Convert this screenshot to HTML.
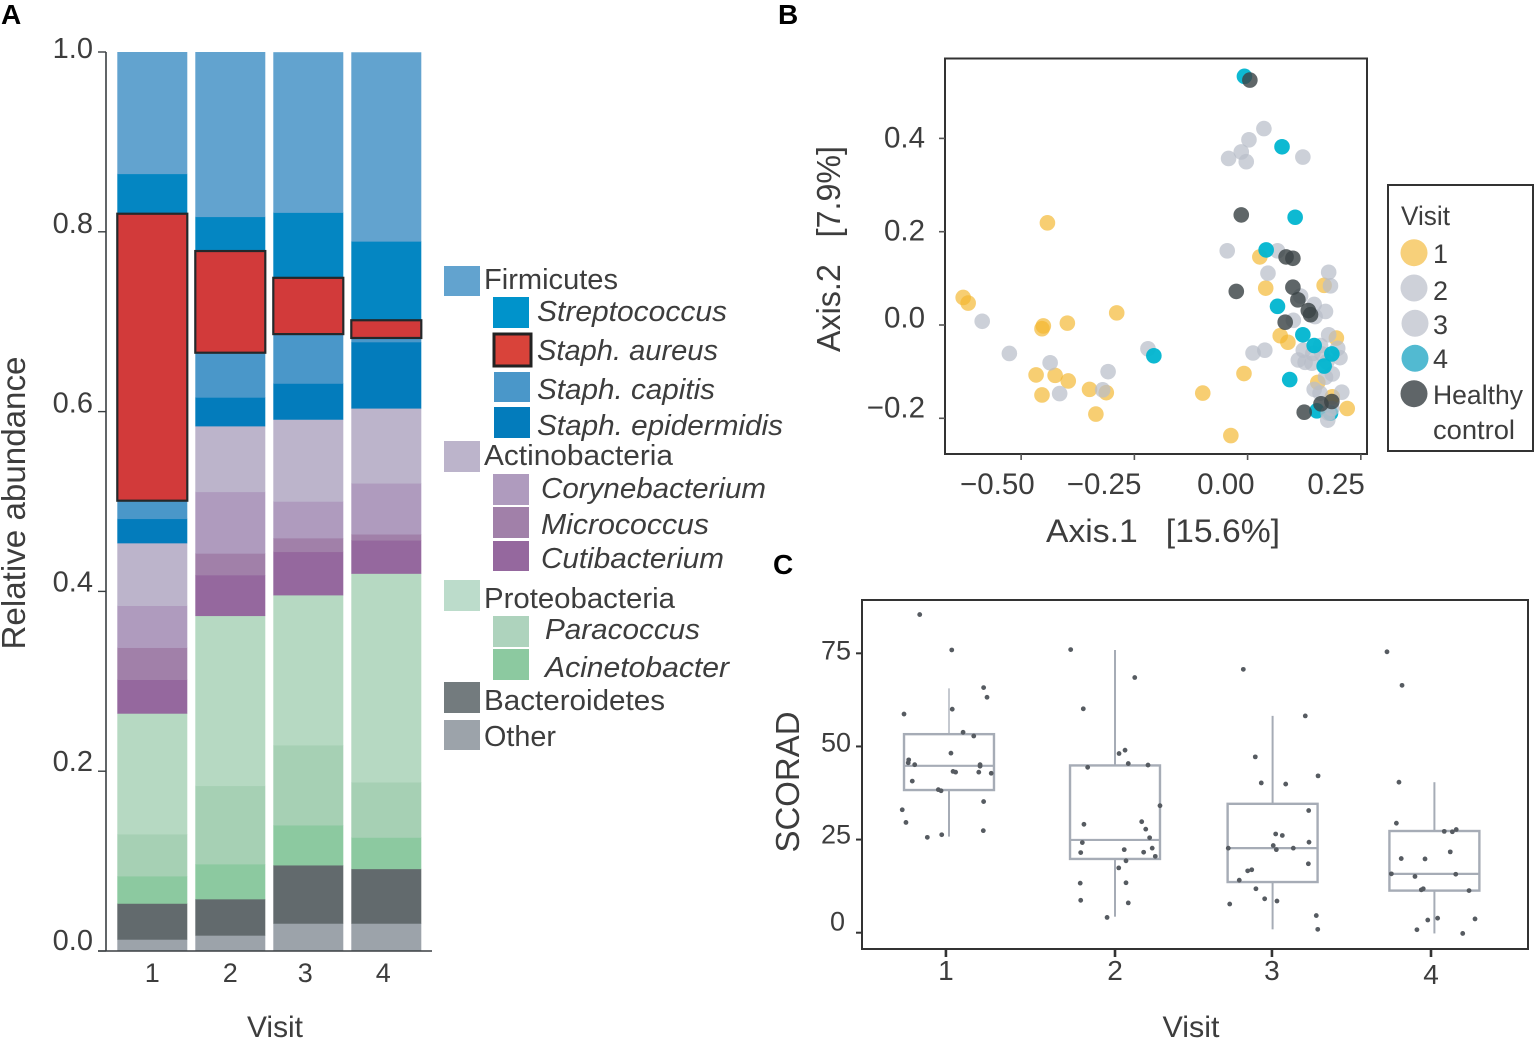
<!DOCTYPE html>
<html lang="en">
<head>
<meta charset="utf-8">
<title>Skin microbiome composition, ordination and SCORAD by visit</title>
<style>
html,body{margin:0;padding:0;background:#fff;}
svg{display:block;font-family:"Liberation Sans",sans-serif;}
text{fill:#3d3d3d;}
.panel-letter{font-weight:bold;font-size:28px;fill:#000;}
.lg{font-size:29px;}
.lgi{font-size:29px;font-style:italic;}
</style>
</head>
<body>
<svg id="figure" width="1534" height="1039" viewBox="0 0 1534 1039" xmlns="http://www.w3.org/2000/svg">
  <text class="panel-letter" x="1" y="24">A</text>
  <text class="panel-letter" x="778" y="24">B</text>
  <text class="panel-letter" x="773" y="574">C</text>

  <!-- Panel A -->
  <g id="panel-a"></g>
  <line x1="106" y1="52" x2="106" y2="951" stroke="#3a3f42" stroke-width="1.6"/>
  <line x1="98" y1="951" x2="432" y2="951" stroke="#3a3f42" stroke-width="1.6"/>
  <text transform="translate(25,503) rotate(-90)" text-anchor="middle" font-size="33" textLength="293" lengthAdjust="spacingAndGlyphs">Relative abundance</text>
  <text x="275" y="1037" text-anchor="middle" font-size="30" textLength="56" lengthAdjust="spacingAndGlyphs">Visit</text>

  <!-- Panel A legend -->
  <g>
    <rect x="444" y="266" width="36" height="30" fill="#62a3cf"/>
    <text class="lg" x="484" y="289" textLength="134" lengthAdjust="spacingAndGlyphs">Firmicutes</text>
    <rect x="493" y="297" width="36" height="31" fill="#0093cb"/>
    <text class="lgi" x="537" y="321" textLength="190" lengthAdjust="spacingAndGlyphs">Streptococcus</text>
    <rect x="494" y="334" width="37" height="32" fill="#d9433a" stroke="#222" stroke-width="3"/>
    <text class="lgi" x="537" y="360" textLength="181" lengthAdjust="spacingAndGlyphs">Staph. aureus</text>
    <rect x="494" y="372" width="36" height="30" fill="#4a97c9"/>
    <text class="lgi" x="537" y="399" textLength="178" lengthAdjust="spacingAndGlyphs">Staph. capitis</text>
    <rect x="494" y="407" width="36" height="31" fill="#037cbc"/>
    <text class="lgi" x="537" y="435" textLength="246" lengthAdjust="spacingAndGlyphs">Staph. epidermidis</text>
    <rect x="444" y="441" width="36" height="31" fill="#bcb4cb"/>
    <text class="lg" x="484" y="465" textLength="189" lengthAdjust="spacingAndGlyphs">Actinobacteria</text>
    <rect x="493" y="474" width="36" height="31" fill="#af9bbe"/>
    <text class="lgi" x="541" y="498" textLength="225" lengthAdjust="spacingAndGlyphs">Corynebacterium</text>
    <rect x="493" y="507" width="36" height="31" fill="#a180a9"/>
    <text class="lgi" x="541" y="534" textLength="168" lengthAdjust="spacingAndGlyphs">Micrococcus</text>
    <rect x="493" y="541" width="36" height="30" fill="#95689e"/>
    <text class="lgi" x="541" y="568" textLength="183" lengthAdjust="spacingAndGlyphs">Cutibacterium</text>
    <rect x="444" y="580" width="36" height="31" fill="#bcdccb"/>
    <text class="lg" x="484" y="608" textLength="191" lengthAdjust="spacingAndGlyphs">Proteobacteria</text>
    <rect x="493" y="616" width="36" height="31" fill="#aed3bd"/>
    <text class="lgi" x="545" y="639" textLength="155" lengthAdjust="spacingAndGlyphs">Paracoccus</text>
    <rect x="493" y="649" width="36" height="31" fill="#8cc9a0"/>
    <text class="lgi" x="545" y="677" textLength="184" lengthAdjust="spacingAndGlyphs">Acinetobacter</text>
    <rect x="444" y="682" width="36" height="31" fill="#737b7e"/>
    <text class="lg" x="484" y="710" textLength="181" lengthAdjust="spacingAndGlyphs">Bacteroidetes</text>
    <rect x="444" y="720" width="36" height="30" fill="#9ca3aa"/>
    <text class="lg" x="484" y="746" textLength="72" lengthAdjust="spacingAndGlyphs">Other</text>
  </g>

  <!-- Panel B -->
  <rect x="945" y="58.5" width="422" height="395.5" fill="#fff" stroke="#333" stroke-width="2"/>
  <g id="panel-b"></g>
  <text x="1046" y="542" font-size="32" textLength="234" lengthAdjust="spacingAndGlyphs">Axis.1&#160;&#160;&#160;[15.6%]</text>
  <text transform="translate(840,249) rotate(-90)" text-anchor="middle" font-size="33" textLength="206" lengthAdjust="spacingAndGlyphs">Axis.2&#160;&#160;&#160;[7.9%]</text>

  <!-- Panel B legend -->
  <g>
    <rect x="1388" y="185" width="145" height="266" fill="#fff" stroke="#333" stroke-width="2"/>
    <text x="1401" y="225" font-size="27" textLength="49" lengthAdjust="spacingAndGlyphs">Visit</text>
    <circle cx="1414" cy="252.7" r="13.5" fill="#f7d07a"/>
    <text x="1433" y="263" font-size="27">1</text>
    <circle cx="1414" cy="288" r="13.5" fill="#ced1d9"/>
    <text x="1433" y="300" font-size="27">2</text>
    <circle cx="1415" cy="323.3" r="13.5" fill="#ced1d9"/>
    <text x="1433" y="334" font-size="27">3</text>
    <circle cx="1415" cy="358.3" r="13.5" fill="#52bad1"/>
    <text x="1433" y="368" font-size="27">4</text>
    <circle cx="1414" cy="393.7" r="13.5" fill="#5f6568"/>
    <text x="1433" y="404" font-size="27" textLength="90" lengthAdjust="spacingAndGlyphs">Healthy</text>
    <text x="1433" y="439" font-size="27" textLength="82" lengthAdjust="spacingAndGlyphs">control</text>
  </g>

  <!-- Panel C -->
  <rect x="862" y="600" width="666" height="349" fill="#fff" stroke="#333" stroke-width="2"/>
  <g id="panel-c"></g>
  <text x="1191" y="1037" text-anchor="middle" font-size="30" textLength="57" lengthAdjust="spacingAndGlyphs">Visit</text>
  <text transform="translate(799,782) rotate(-90)" text-anchor="middle" font-size="33" textLength="141" lengthAdjust="spacingAndGlyphs">SCORAD</text>
</svg>

<script>
/* ---------- Panel A data: relative abundance per visit ---------- */
const barVisits = ["1", "2", "3", "4"];
const barTicks = [0, 0.2, 0.4, 0.6, 0.8, 1.0];
const barTickLabels = ["0.0", "0.2", "0.4", "0.6", "0.8", "1.0"];
const other = [0.0130, 0.0175, 0.0308, 0.0308];
const bacteroidetes = [0.0400, 0.0404, 0.0648, 0.0607];
const acinetobacter = [0.0304, 0.0389, 0.0445, 0.0349];
const paracoccus = [0.0467, 0.0871, 0.0890, 0.0615];
const proteobacteria = [0.1343, 0.1891, 0.1669, 0.2321];
const cutibacterium = [0.0375, 0.0453, 0.0482, 0.0370];
const micrococcus = [0.0356, 0.0241, 0.0152, 0.0067];
const corynebacterium = [0.0467, 0.0685, 0.0408, 0.0567];
const actinobacteria = [0.0697, 0.0731, 0.0912, 0.0834];
const staphEpidermidis = [0.0270, 0.0319, 0.0400, 0.0737];
const staphCapitis = [0.0200, 0.0496, 0.0548, 0.0044];
const staphAureus = [0.3192, 0.1131, 0.0626, 0.0197];
const streptococcus = [0.0445, 0.0382, 0.0727, 0.0879];
const firmicutes = [0.1354, 0.1832, 0.1783, 0.2102];

/* ---------- Panel B data: ordination coordinates ---------- */
const scatterXTicks = [-0.5, -0.25, 0, 0.25];
const scatterXTickLabels = ["\u22120.50", "\u22120.25", "0.00", "0.25"];
const scatterYTicks = [-0.2, 0, 0.2, 0.4];
const scatterYTickLabels = ["\u22120.2", "0.0", "0.2", "0.4"];
const visit1X = [-0.442,-0.628,-0.617,-0.451,-0.454,-0.398,-0.289,-0.467,-0.425,-0.396,-0.454,-0.349,-0.312,-0.335,0.027,0.040,0.169,0.072,0.089,0.196,-0.008,-0.099,0.155,0.187,0.220,-0.037];
const visit1Y = [0.219,0.059,0.047,-0.002,-0.008,0.004,0.026,-0.107,-0.108,-0.120,-0.150,-0.138,-0.145,-0.191,0.146,0.079,0.085,-0.023,-0.037,-0.028,-0.104,-0.146,-0.123,-0.154,-0.179,-0.237];
const visit2X = [-0.586,-0.526,-0.436,-0.308,-0.320,-0.415,-0.220,-0.045,0.066,0.045,0.179,0.183,0.117,0.147,0.172,0.149,0.101,0.179,0.038,0.012,0.161,0.199];
const visit2Y = [0.008,-0.061,-0.081,-0.100,-0.139,-0.147,-0.051,0.159,0.159,0.111,0.113,0.084,0.062,0.044,0.029,0.018,0.010,-0.021,-0.054,-0.060,-0.044,-0.050];
const visit3X = [0.123,0.144,0.164,0.204,0.112,0.127,0.142,0.175,0.187,0.172,0.147,0.160,0.208,0.036,0.003,-0.014,-0.042,-0.003,0.122];
const visit3Y = [-0.054,-0.061,-0.062,-0.070,-0.075,-0.080,-0.082,-0.079,-0.105,-0.112,-0.138,-0.146,-0.144,0.421,0.397,0.371,0.357,0.350,0.360];
const visit4X = [-0.207,0.105,0.041,0.066,0.122,0.147,0.186,0.169,0.093,0.153,0.183,-0.007,0.076];
const visit4Y = [-0.066,0.231,0.161,0.040,-0.021,-0.044,-0.062,-0.088,-0.117,-0.184,-0.189,0.533,0.382];
const lateGrayX = [0.178,0.177,0.186];
const lateGrayY = [-0.189,-0.204,-0.179];
const healthyX = [-0.014,0.085,0.100,-0.025,0.100,0.111,0.134,0.139,0.083,0.125,0.162,0.186,0.005];
const healthyY = [0.236,0.146,0.143,0.072,0.081,0.054,0.031,0.022,0.006,-0.187,-0.169,-0.164,0.525];

/* ---------- Panel C data: SCORAD per visit ---------- */
const boxTicks = [0.981, 2.026, 2.996, 3.979];
const boxTickLabels = ["1", "2", "3", "4"];
const scoreTicks = [0, 25, 50, 75];
const scoreTickLabels = ["0", "25", "50", "75"];
const boxCentres = [1, 2.026, 3, 4];
const whiskerHigh = [65.6, 75.9, 58.2, 40.4];
const q3 = [53.3, 44.9, 34.6, 27.3];
const median = [44.8, 24.9, 22.7, 15.8];
const q1 = [38.3, 19.8, 13.6, 11.3];
const whiskerLow = [25.8, 4.3, 0.9, -0.2];
const jitterVisit = [
  0.819,1.017,1.214,1.235,1.020,0.722,1.087,1.153,1.012,0.751,0.748,0.788,1.192,1.192,1.025,1.041,1.184,1.261,0.773,0.934,0.951,1.214,0.711,0.734,1.212,0.955,0.866,
  1.752,2.148,1.830,2.088,2.051,2.108,2.230,1.857,2.304,1.834,2.191,2.216,2.240,1.824,2.083,2.203,2.256,1.814,2.275,2.094,2.049,1.811,2.094,1.814,2.108,1.977,
  2.819,3.202,2.893,2.930,3.081,3.281,3.223,3.019,3.060,3.225,3.004,3.023,2.726,3.128,3.221,2.846,2.871,2.794,2.897,2.951,3.027,2.735,3.270,3.279,
  3.707,3.800,3.781,3.765,4.061,4.111,4.135,4.098,3.795,3.942,3.734,3.880,4.132,3.919,3.931,4.214,4.020,3.959,4.251,3.892,4.175
];
const jitterScore = [
  85.4,75.9,65.8,63.2,60.0,58.7,53.8,52.8,48.2,46.4,45.6,45.1,45.1,44.7,43.3,43.1,43.1,42.8,40.7,38.4,38.1,35.2,33.0,29.6,27.4,26.3,25.6,
  76.0,68.5,60.1,49.0,48.1,45.4,45.0,44.4,34.1,29.1,29.8,27.8,25.5,24.2,22.3,21.6,22.7,21.5,20.5,19.3,17.4,13.3,13.4,8.7,8.0,4.1,
  70.7,58.2,47.2,40.2,39.9,42.1,32.8,26.5,26.1,24.3,23.4,22.3,22.7,22.7,18.5,16.6,16.9,14.1,11.8,9.1,8.5,7.7,4.6,0.9,
  75.4,66.4,40.4,29.4,27.2,27.1,27.7,21.7,19.9,19.8,15.8,15.1,15.7,11.5,11.8,11.3,3.9,3.4,3.7,0.8,-0.2
];

const NS = "http://www.w3.org/2000/svg";
function mk(tag, attrs, parent) {
  const el = document.createElementNS(NS, tag);
  for (const k in attrs) el.setAttribute(k, attrs[k]);
  parent.appendChild(el);
  return el;
}

/* ---------- Panel A ---------- */
(function () {
  const g = document.getElementById("panel-a");
  const yA = v => 951 - v * 899;
  const xA = i => 152.3 + i * 78;
  const barW = 70;
  const stack = [
    [other, "#9ca3aa", "other"],
    [bacteroidetes, "#626a6d", "bacteroidetes"],
    [acinetobacter, "#8cc9a0", "acinetobacter"],
    [paracoccus, "#a6d0b4", "paracoccus"],
    [proteobacteria, "#b6d9c2", "proteobacteria"],
    [cutibacterium, "#95689e", "cutibacterium"],
    [micrococcus, "#a180a9", "micrococcus"],
    [corynebacterium, "#af9bbe", "corynebacterium"],
    [actinobacteria, "#bcb4cb", "actinobacteria"],
    [staphEpidermidis, "#037cbc", "staph-epidermidis"],
    [staphCapitis, "#4a97c9", "staph-capitis"],
    [staphAureus, "#d23a3a", "staph-aureus"],
    [streptococcus, "#0486c2", "streptococcus"],
    [firmicutes, "#62a3cf", "firmicutes"]
  ];
  const aureusRects = [];
  barVisits.forEach((visit, i) => {
    let base = 0;
    stack.forEach(s => {
      const v = s[0][i];
      if (s[2] === "staph-aureus") {
        aureusRects.push([i, base, v]);
      } else {
        const seg = mk("rect", {x: xA(i) - barW / 2, y: yA(base + v), width: barW, height: yA(base) - yA(base + v) + 0.4, fill: s[1]}, g);
        
        
      }
      base += v;
    });
  });
  aureusRects.forEach(a => {
    const seg = mk("rect", {x: xA(a[0]) - barW / 2, y: yA(a[1] + a[2]), width: barW, height: yA(a[1]) - yA(a[1] + a[2]), fill: "#d23a3a", stroke: "#24282a", "stroke-width": 2.2}, g);
    
    
  });
  barTicks.forEach((v, i) => {
    const t = mk("line", {x1: 98, x2: 106, y1: yA(v), y2: yA(v), stroke: "#3a3f42", "stroke-width": 1.4}, g);
    
    
    const lab = mk("text", {x: 93, y: yA(v) + (v === 1 ? 6 : v * 3) - 1 + (v === 1 ? 1 : 0), "text-anchor": "end", "font-size": 29}, g);
    lab.textContent = barTickLabels[i];
    
    
  });
  barVisits.forEach((visit, i) => {
    const lab = mk("text", {x: xA(i) - (i > 1 ? 3 : 0), y: 982, "text-anchor": "middle", "font-size": 27}, g);
    lab.textContent = visit;
    
    
  });
})();

/* ---------- Panel B ---------- */
(function () {
  const g = document.getElementById("panel-b");
  const xB = v => 1247.6 + v * 452.9;
  const yB = v => 325 - v * 466.5;
  const groups = [
    [visit1X, visit1Y, "#f3b72f", 0.68, "visit-1"],
    [visit2X, visit2Y, "#b9bec9", 0.72, "visit-2"],
    [visit3X, visit3Y, "#b9bec9", 0.72, "visit-3"],
    [visit4X, visit4Y, "#00b5d0", 0.95, "visit-4"],
    [lateGrayX, lateGrayY, "#b9bec9", 0.72, "visit-3"],
    [healthyX, healthyY, "#3c4447", 0.82, "healthy-control"]
  ];
  groups.forEach(s => {
    s[0].forEach((vx, i) => {
      const c = mk("circle", {cx: xB(vx), cy: yB(s[1][i]), r: 7.8, fill: s[2], "fill-opacity": s[3]}, g);
      
      
    });
  });
  scatterXTicks.forEach((v, i) => {
    const t = mk("line", {x1: xB(v), x2: xB(v), y1: 454, y2: 460, stroke: "#555", "stroke-width": 1.6}, g);
    
    
    const dx = v < -0.4 ? 13.5 : (v > 0.2 ? 4 : 7);
    const lab = mk("text", {x: xB(v) + dx, y: 494, "text-anchor": "end", "font-size": 29.5}, g);
    lab.textContent = scatterXTickLabels[i];
    
    
  });
  scatterYTicks.forEach((v, i) => {
    const t = mk("line", {x1: 939, x2: 945, y1: yB(v), y2: yB(v), stroke: "#555", "stroke-width": 1.6}, g);
    
    
    const dy = v > 0 ? 9 : (v === 0 ? 2.5 : -1);
    const lab = mk("text", {x: 925, y: yB(v) + dy, "text-anchor": "end", "font-size": 29.5}, g);
    lab.textContent = scatterYTickLabels[i];
    
    
  });
})();

/* ---------- Panel C ---------- */
(function () {
  const g = document.getElementById("panel-c");
  const xC = v => 949 + (v - 1) * 161.8;
  const yC = v => 932.7 - v * 3.725;
  const halfBox = 0.278;
  const boxColour = "#a6acb6";
  boxCentres.forEach((c, i) => {
    const wu = mk("line", {x1: xC(c), x2: xC(c), y1: yC(whiskerHigh[i]), y2: yC(q3[i]), stroke: boxColour, "stroke-width": i === 0 ? 1.3 : 2}, g);
    
    
    const wl = mk("line", {x1: xC(c), x2: xC(c), y1: yC(q1[i]), y2: yC(whiskerLow[i]), stroke: boxColour, "stroke-width": 2}, g);
    
    
    const b = mk("rect", {x: xC(c - halfBox), y: yC(q3[i]), width: xC(c + halfBox) - xC(c - halfBox), height: yC(q1[i]) - yC(q3[i]), fill: "none", stroke: boxColour, "stroke-width": 2.4}, g);
    
    
    const m = mk("line", {x1: xC(c - halfBox), x2: xC(c + halfBox), y1: yC(median[i]), y2: yC(median[i]), stroke: boxColour, "stroke-width": 2.2}, g);
    
    
  });
  jitterVisit.forEach((v, i) => {
    const p = mk("circle", {cx: xC(v), cy: yC(jitterScore[i]), r: 2.4, fill: "#565b61"}, g);
    
    
  });
  boxTicks.forEach((v, i) => {
    const t = mk("line", {x1: xC(v), x2: xC(v), y1: 949, y2: 957, stroke: "#333", "stroke-width": 2.6}, g);
    
    
    const lab = mk("text", {x: xC(v), y: i === 3 ? 984 : 980, "text-anchor": "middle", "font-size": 28}, g);
    lab.textContent = boxTickLabels[i];
    
    
  });
  scoreTicks.forEach((v, i) => {
    const t = mk("line", {x1: 856, x2: 862, y1: yC(v), y2: yC(v), stroke: "#333", "stroke-width": 2}, g);
    
    
    const lab = mk("text", {x: v === 0 ? 845 : 851, y: yC(v) + (v === 0 ? -2 : 2.5 + v * 0.05), "text-anchor": "end", "font-size": 27}, g);
    lab.textContent = scoreTickLabels[i];
    
    
  });
})();
</script>
</body>
</html>
